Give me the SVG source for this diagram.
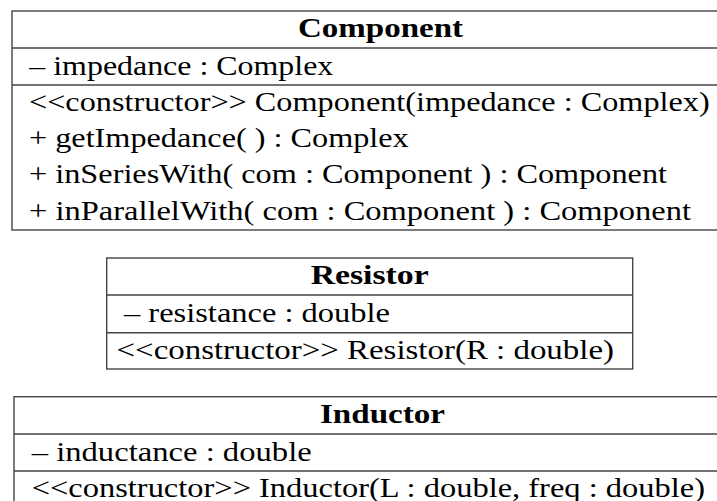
<svg xmlns="http://www.w3.org/2000/svg" width="717" height="501" viewBox="0 0 717 501">
<style>
.box{fill:#fff;stroke:#454545;stroke-width:1.4}
.sep{stroke:#454545;stroke-width:1.4}
.t{font-family:"Liberation Serif","Times New Roman",serif;font-size:28px;fill:#000}
.h{font-weight:bold;text-anchor:middle}
</style>
<rect width="717" height="501" fill="#fff"/>
<g id="component">
<rect class="box" x="12" y="11" width="740" height="219"/>
<line class="sep" x1="12" y1="48" x2="752" y2="48"/>
<line class="sep" x1="12" y1="85" x2="752" y2="85"/>
<text class="t h" x="380.5" y="37.3" textLength="165" lengthAdjust="spacingAndGlyphs">Component</text>
<text class="t" x="29.3" y="74.8" textLength="304" lengthAdjust="spacingAndGlyphs">– impedance : Complex</text>
<text class="t" x="29" y="110.8" textLength="680.7" lengthAdjust="spacingAndGlyphs">&lt;&lt;constructor&gt;&gt; Component(impedance : Complex)</text>
<text class="t" x="29" y="147" textLength="379.7" lengthAdjust="spacingAndGlyphs">+ getImpedance( ) : Complex</text>
<text class="t" x="29" y="183.3" textLength="638" lengthAdjust="spacingAndGlyphs">+ inSeriesWith( com : Component ) : Component</text>
<text class="t" x="29" y="219.8" textLength="662" lengthAdjust="spacingAndGlyphs">+ inParallelWith( com : Component ) : Component</text>
</g>
<g id="resistor">
<rect class="box" x="106.7" y="258" width="526" height="111"/>
<line class="sep" x1="106.7" y1="295" x2="632.7" y2="295"/>
<line class="sep" x1="106.7" y1="332.7" x2="632.7" y2="332.7"/>
<text class="t h" x="369.7" y="284.3" textLength="118" lengthAdjust="spacingAndGlyphs">Resistor</text>
<text class="t" x="124" y="321.5" textLength="266" lengthAdjust="spacingAndGlyphs">– resistance : double</text>
<text class="t" x="116.5" y="358.7" textLength="497.5" lengthAdjust="spacingAndGlyphs">&lt;&lt;constructor&gt;&gt; Resistor(R : double)</text>
</g>
<g id="inductor">
<rect class="box" x="14" y="396.7" width="740" height="112"/>
<line class="sep" x1="14" y1="434" x2="754" y2="434"/>
<line class="sep" x1="14" y1="471" x2="754" y2="471"/>
<text class="t h" x="382.5" y="423" textLength="125" lengthAdjust="spacingAndGlyphs">Inductor</text>
<text class="t" x="31.7" y="460.5" textLength="280" lengthAdjust="spacingAndGlyphs">– inductance : double</text>
<text class="t" x="31.7" y="496.5" textLength="673.3" lengthAdjust="spacingAndGlyphs">&lt;&lt;constructor&gt;&gt; Inductor(L : double, freq : double)</text>
</g>
<g id="connectors"/>
</svg>
